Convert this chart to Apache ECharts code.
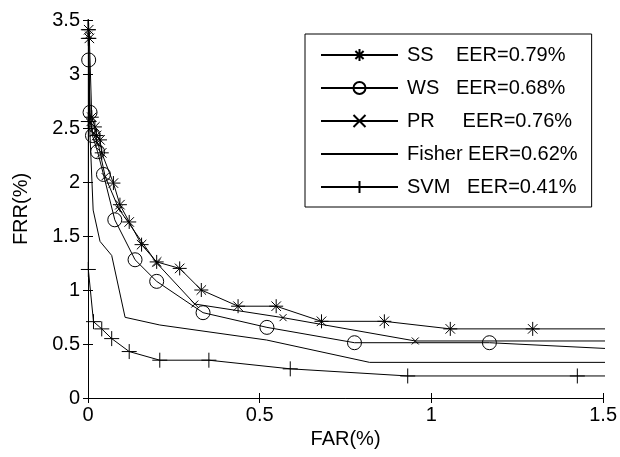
<!DOCTYPE html>
<html>
<head>
<meta charset="utf-8">
<script src="https://cdn.jsdelivr.net/npm/echarts@6/dist/echarts.min.js"></script>
<style>
html,body{margin:0;padding:0;background:#fff;}
#chart{width:620px;height:457px;}
</style>
</head>
<body>
<div id="chart"></div>
<script>
// ---- data (FAR %, FRR %) ----
var ssFAR  = [0.002, 0.004, 0.011, 0.020, 0.025, 0.035, 0.040, 0.074, 0.093, 0.120, 0.156, 0.200, 0.267, 0.330, 0.437, 0.548, 0.680, 0.863, 1.055, 1.295, 1.600];
var ssFRR  = [3.41, 3.33, 2.60, 2.51, 2.43, 2.39, 2.27, 1.99, 1.79, 1.63, 1.42, 1.26, 1.20, 1.00, 0.85, 0.85, 0.71, 0.71, 0.64, 0.64, 0.64];

var wsFAR  = [0.000, 0.002, 0.006, 0.013, 0.028, 0.045, 0.078, 0.137, 0.200, 0.335, 0.521, 0.776, 1.169, 1.600];
var wsFRR  = [3.60, 3.13, 2.645, 2.43, 2.28, 2.07, 1.65, 1.28, 1.08, 0.79, 0.654, 0.512, 0.512, 0.444];

var prFAR  = [0.002, 0.006, 0.015, 0.030, 0.050, 0.090, 0.200, 0.311, 0.568, 0.953, 1.600];
var prFRR  = [3.36, 2.55, 2.45, 2.35, 2.05, 1.75, 1.25, 0.87, 0.744, 0.528, 0.528];

var fiFAR  = [0.000, 0.005, 0.015, 0.035, 0.069, 0.108, 0.209, 0.520, 0.820, 1.600];
var fiFRR  = [3.60, 2.50, 1.74, 1.45, 1.32, 0.747, 0.676, 0.537, 0.33, 0.33];

var svFAR  = [0.001, 0.001, 0.001, 0.001, 0.016, 0.040, 0.069, 0.120, 0.209, 0.352, 0.589, 0.931, 1.425, 1.600];
var svFRR  = [3.41, 3.33, 2.56, 1.19, 0.707, 0.64, 0.55, 0.43, 0.35, 0.35, 0.27, 0.204, 0.204, 0.204];

var seriesNames = ['SS    EER=0.79%', 'WS   EER=0.68%', 'PR     EER=0.76%', 'Fisher EER=0.62%', 'SVM   EER=0.41%'];
var xTicks = [0, 0.5, 1, 1.5];
var yTicks = [0, 0.5, 1, 1.5, 2, 2.5, 3, 3.5];

function pairs(xs, ys){ return xs.map(function(x,i){ return [x, ys[i]]; }); }

var FONT = '"Liberation Sans", Arial, sans-serif';
var symAst = 'path://M0,5L10,5M5,0L5,10M1.6,1.6L8.4,8.4M8.4,1.6L1.6,8.4';
var symX   = 'path://M0,0L10,10M10,0L0,10';
var symP   = 'path://M0,5L10,5M5,0L5,10';

function mkSeries(name, data, symbol, size){
  return {
    name: name, type: 'line', data: data,
    symbol: symbol, symbolSize: size, showSymbol: symbol !== 'none',
    clip: true, animation: false, silent: true,
    lineStyle: { color: '#000', width: 1 },
    itemStyle: { color: 'transparent', borderColor: '#000', borderWidth: 1 },
    emphasis: { disabled: true }
  };
}

var legendData = seriesNames.map(function(n, i){
  return i === 3 ? { name: n, itemStyle: { color: 'transparent', borderColor: 'transparent', borderWidth: 0 } } : { name: n };
});

var chart = echarts.init(document.getElementById('chart'), null, {renderer: 'canvas'});
var axisCommon = {
  type: 'value', min: 0,
  axisLine: { show: true, lineStyle: { color: '#000', width: 1 } },
  axisTick: { show: true, inside: true, length: 5, lineStyle: { color: '#000' } },
  splitLine: { show: false }
};
chart.setOption({
  backgroundColor: '#fff',
  animation: false,
  grid: { left: 88, right: 16, top: 20, bottom: 59, containLabel: false },
  legend: {
    orient: 'vertical', left: 305, top: 34,
    data: legendData,
    itemWidth: 77, itemHeight: 15, itemGap: 13,
    padding: [11, 14, 10, 15],
    borderColor: '#000', borderWidth: 1, backgroundColor: '#fff',
    textStyle: { fontFamily: FONT, fontSize: 20, color: '#000', padding: [0, 0, 0, 4] },
    selectedMode: false
  },
  xAxis: [
    Object.assign({}, axisCommon, { max: 1.5, interval: 0.5, position: 'bottom',
      name: 'FAR(%)', nameLocation: 'middle', nameGap: 29,
      nameTextStyle: { fontFamily: FONT, fontSize: 20, color: '#000' },
      axisLabel: { fontFamily: FONT, fontSize: 20, color: '#000', margin: 7,
        formatter: function(v){ return xTicks.indexOf(v) >= 0 ? String(v) : ''; } } }),
    Object.assign({}, axisCommon, { max: 1.5, interval: 0.5, position: 'top', axisLabel: { show: false } })
  ],
  yAxis: [
    Object.assign({}, axisCommon, { max: 3.5, interval: 0.5, position: 'left',
      name: 'FRR(%)', nameLocation: 'middle', nameGap: 57,
      nameTextStyle: { fontFamily: FONT, fontSize: 20, color: '#000' },
      axisLabel: { fontFamily: FONT, fontSize: 20, color: '#000', margin: 8,
        formatter: function(v){ return yTicks.indexOf(v) >= 0 ? String(v) : ''; } } }),
    Object.assign({}, axisCommon, { max: 3.5, interval: 0.5, position: 'right', axisLabel: { show: false } })
  ],
  series: [
    mkSeries(seriesNames[0], pairs(ssFAR, ssFRR), symAst, 14),
    mkSeries(seriesNames[1], pairs(wsFAR, wsFRR), 'circle', 14),
    mkSeries(seriesNames[2], pairs(prFAR, prFRR), symX, 7),
    mkSeries(seriesNames[3], pairs(fiFAR, fiFRR), 'none', 0),
    mkSeries(seriesNames[4], pairs(svFAR, svFRR), symP, 15)
  ]
});
</script>
</body>
</html>
